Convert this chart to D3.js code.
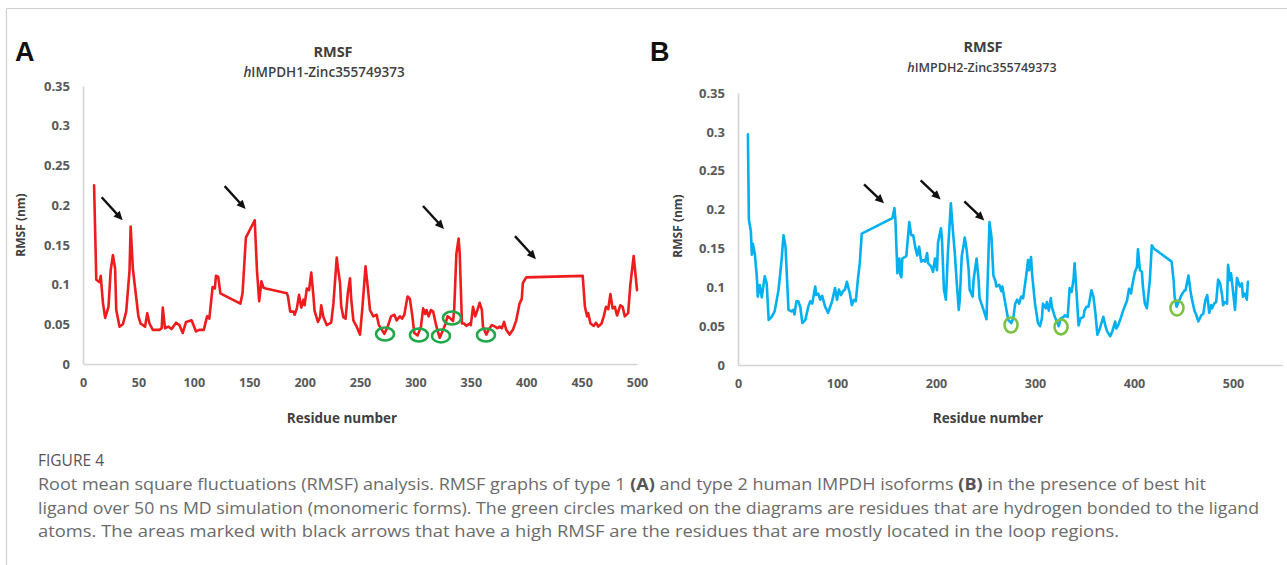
<!DOCTYPE html>
<html>
<head>
<meta charset="utf-8">
<script src="https://cdn.jsdelivr.net/npm/d3@7"></script>
<style>
  html, body { margin: 0; padding: 0; background: #fff; }
  svg { display: block; }
</style>
</head>
<body>
<svg id="fig" width="1287" height="565"></svg>
<script>
// ---------------- DATA ----------------
const residueA = [10,12,15,16,18,20,23,25,27,29,30,33,36,39,42,43,45,47,50,52,56,58,60,63,69,71,72,74,77,80,84,87,90,93,98,102,105,109,112,114,117,119,120,122,124,142,144,147,155,157,159,161,163,165,184,185,187,190,191,193,195,197,199,200,202,204,205,206,208,209,212,214,215,217,220,224,226,229,230,232,233,235,237,239,241,242,244,247,250,252,255,257,259,262,265,267,272,275,278,281,283,286,288,290,292,293,295,297,299,302,305,307,309,310,312,314,316,319,322,325,327,329,331,334,335,337,339,340,342,344,346,349,350,352,354,356,358,360,361,364,366,369,372,374,376,378,380,382,385,388,391,394,396,397,400,451,453,455,456,458,461,463,465,468,470,472,474,476,478,480,482,485,487,489,492,494,497,498,500];
const rmsfA = [0.225,0.106,0.103,0.111,0.077,0.058,0.072,0.118,0.137,0.12,0.068,0.047,0.05,0.066,0.118,0.173,0.12,0.096,0.06,0.051,0.047,0.064,0.051,0.043,0.043,0.045,0.071,0.045,0.047,0.044,0.052,0.049,0.039,0.053,0.055,0.041,0.043,0.043,0.06,0.057,0.097,0.095,0.111,0.11,0.089,0.076,0.089,0.159,0.181,0.118,0.079,0.104,0.096,0.095,0.089,0.085,0.066,0.066,0.062,0.07,0.087,0.071,0.081,0.074,0.095,0.093,0.104,0.115,0.085,0.067,0.053,0.059,0.074,0.059,0.049,0.052,0.076,0.134,0.122,0.102,0.073,0.059,0.057,0.089,0.108,0.083,0.055,0.047,0.037,0.068,0.123,0.097,0.068,0.06,0.062,0.049,0.038,0.047,0.06,0.062,0.055,0.06,0.057,0.062,0.078,0.085,0.082,0.063,0.039,0.036,0.047,0.07,0.063,0.068,0.06,0.068,0.066,0.047,0.033,0.043,0.05,0.06,0.058,0.054,0.068,0.139,0.158,0.139,0.051,0.051,0.048,0.051,0.049,0.072,0.06,0.068,0.077,0.068,0.047,0.037,0.043,0.049,0.047,0.045,0.047,0.045,0.053,0.043,0.037,0.043,0.055,0.076,0.082,0.102,0.109,0.111,0.072,0.06,0.064,0.051,0.048,0.052,0.047,0.051,0.06,0.072,0.069,0.088,0.07,0.072,0.061,0.074,0.072,0.06,0.064,0.1,0.136,0.122,0.093];

const residueB = [10,11,13,14,15,17,19,20,22,24,27,29,31,34,37,41,44,46,48,51,54,56,57,59,61,63,65,68,71,73,75,78,79,81,83,85,88,91,95,98,100,102,104,106,108,110,113,115,117,119,121,123,125,156,158,159,161,163,164,165,166,170,173,175,177,179,181,183,185,187,189,191,192,195,197,199,201,202,205,206,208,210,212,215,217,219,221,223,224,226,228,229,231,233,234,237,238,241,243,244,248,251,254,256,258,260,261,264,266,267,270,273,276,278,280,282,284,286,288,291,293,294,296,297,300,303,305,307,308,311,312,314,316,317,320,324,326,329,330,333,335,337,339,340,342,344,346,349,350,352,354,357,359,361,363,365,369,371,373,376,378,381,382,384,387,389,393,395,397,398,401,403,404,406,408,409,411,413,416,418,420,438,440,441,443,445,448,451,452,455,457,458,461,463,465,468,470,472,474,476,478,479,481,483,485,487,489,490,492,494,495,497,498,500,502,504,507,509,510,512,514,515];
const rmsfB = [0.297,0.187,0.172,0.142,0.156,0.143,0.114,0.088,0.103,0.087,0.114,0.105,0.058,0.062,0.069,0.097,0.135,0.167,0.152,0.071,0.069,0.071,0.065,0.082,0.082,0.074,0.054,0.058,0.075,0.082,0.079,0.101,0.09,0.092,0.084,0.089,0.075,0.067,0.082,0.099,0.084,0.097,0.09,0.095,0.097,0.107,0.092,0.077,0.084,0.082,0.109,0.131,0.169,0.189,0.202,0.187,0.118,0.137,0.116,0.113,0.137,0.14,0.184,0.167,0.167,0.152,0.141,0.152,0.133,0.135,0.133,0.144,0.131,0.127,0.12,0.137,0.122,0.157,0.176,0.163,0.097,0.084,0.144,0.208,0.174,0.144,0.105,0.071,0.084,0.14,0.155,0.164,0.148,0.122,0.097,0.088,0.11,0.137,0.11,0.086,0.071,0.059,0.184,0.165,0.115,0.108,0.101,0.103,0.095,0.101,0.079,0.058,0.054,0.06,0.079,0.084,0.079,0.088,0.086,0.114,0.135,0.122,0.139,0.118,0.079,0.054,0.05,0.06,0.079,0.073,0.081,0.07,0.086,0.075,0.062,0.05,0.06,0.062,0.064,0.062,0.099,0.094,0.111,0.131,0.092,0.051,0.06,0.062,0.07,0.075,0.075,0.096,0.088,0.067,0.039,0.045,0.062,0.051,0.043,0.037,0.043,0.056,0.047,0.051,0.062,0.07,0.083,0.098,0.092,0.101,0.12,0.126,0.149,0.122,0.12,0.101,0.079,0.073,0.109,0.154,0.15,0.133,0.109,0.088,0.075,0.081,0.09,0.096,0.096,0.115,0.096,0.088,0.07,0.064,0.056,0.064,0.066,0.083,0.09,0.067,0.077,0.073,0.079,0.081,0.11,0.105,0.09,0.077,0.081,0.079,0.129,0.109,0.118,0.095,0.071,0.112,0.101,0.105,0.088,0.092,0.084,0.107];

const yTicks = [0, 0.05, 0.1, 0.15, 0.2, 0.25, 0.3, 0.35];
const xTicksA = [0, 50, 100, 150, 200, 250, 300, 350, 400, 450, 500];
const xTicksB = [0, 100, 200, 300, 400, 500];

// annotations (data coordinates)
const arrowTipResA = [35.8, 146.8, 325.8, 408.8];
const arrowTipValA = [0.181, 0.195, 0.170, 0.132];
const arrowTipResB = [147.5, 204.7, 248.8];
const arrowTipValB = [0.208, 0.213, 0.186];
const circleResA = [272.6, 303.2, 323.1, 333, 363.7];
const circleValA = [0.0378, 0.0365, 0.0353, 0.0579, 0.0365];
const circleResB = [275.8, 326.3, 443.4];
const circleValB = [0.0515, 0.049, 0.0734];

const titleA = "RMSF", subA = ["h", "IMPDH1-Zinc355749373"];
const titleB = "RMSF", subB = ["h", "IMPDH2-Zinc355749373"];
const xLabel = "Residue number", yLabel = "RMSF (nm)";

const captionHead = "FIGURE 4";
const captionLines = [
  [["Root mean square fluctuations (RMSF) analysis. RMSF graphs of type 1 ", false], ["(A)", true], [" and type 2 human IMPDH isoforms ", false], ["(B)", true], [" in the presence of best hit", false]],
  [["ligand over 50 ns MD simulation (monomeric forms). The green circles marked on the diagrams are residues that are hydrogen bonded to the ligand", false]],
  [["atoms. The areas marked with black arrows that have a high RMSF are the residues that are mostly located in the loop regions.", false]]
];

// ---------------- DRAW ----------------
const svg = d3.select("#fig");
const FONT = "'Open Sans', 'DejaVu Sans', sans-serif";

// frame
svg.append("line").attr("x1", 6.5).attr("y1", 8.5).attr("x2", 1287).attr("y2", 8.5).attr("stroke", "#cfcfcf").attr("stroke-width", 1.2);
svg.append("line").attr("x1", 6.5).attr("y1", 8.5).attr("x2", 6.5).attr("y2", 565).attr("stroke", "#cfcfcf").attr("stroke-width", 1.2);

function panel(cfg) {
  const x = d3.scaleLinear().domain(cfg.xDomain).range(cfg.xRange);
  const y = d3.scaleLinear().domain([0, 0.35]).range(cfg.yRange);
  const g = svg.append("g");

  const yAxis = d3.axisLeft(y).tickValues(yTicks).tickSize(0).tickPadding(13)
    .tickFormat(d => d === 0 ? "0" : String(+d.toFixed(2)));
  const ya = g.append("g").attr("transform", `translate(${cfg.xRange[0]},0)`).call(yAxis);
  ya.select(".domain").attr("stroke", "#d4d4d4").attr("stroke-width", 1.6);
  ya.selectAll("text").attr("font-family", FONT).attr("font-weight", 700).attr("font-size", 13).attr("fill", "#595959");

  const xAxis = d3.axisBottom(x).tickValues(cfg.xTicks).tickSize(0).tickPadding(14).tickFormat(d3.format("d"));
  const xa = g.append("g").attr("transform", `translate(0,${cfg.yRange[0]})`).call(xAxis);
  xa.select(".domain").attr("stroke", "#d4d4d4").attr("stroke-width", 1.6);
  xa.selectAll("text").attr("font-family", FONT).attr("font-weight", 700).attr("font-size", 12.5).attr("fill", "#595959");

  const pts = cfg.res.map((r, i) => [r, cfg.val[i]]);
  g.append("path").datum(pts)
    .attr("d", d3.line().x(d => x(d[0])).y(d => y(d[1])))
    .attr("fill", "none").attr("stroke", cfg.color).attr("stroke-width", 2.6)
    .attr("stroke-linejoin", "round").attr("stroke-linecap", "round");

  cfg.cRes.forEach((r, i) => {
    g.append("ellipse").attr("cx", x(r)).attr("cy", y(cfg.cVal[i]))
      .attr("rx", cfg.crx).attr("ry", cfg.cry)
      .attr("fill", "none").attr("stroke", cfg.cColor).attr("stroke-width", 2.6);
  });

  cfg.aRes.forEach((r, i) => {
    const tx = x(r), ty = y(cfg.aVal[i]);
    const [dx, dy] = cfg.aDir;
    const len = Math.hypot(dx, dy), ux = dx / len, uy = dy / len;
    const headL = 9, headW = 4.2;
    const bx = tx - ux * headL, by = ty - uy * headL;
    g.append("line").attr("x1", tx - dx).attr("y1", ty - dy).attr("x2", bx + ux * 1).attr("y2", by + uy * 1)
      .attr("stroke", "#111").attr("stroke-width", 2.4);
    g.append("path")
      .attr("d", `M${tx},${ty}L${bx - uy * headW},${by + ux * headW}L${bx + uy * headW},${by - ux * headW}Z`)
      .attr("fill", "#111");
  });

  g.append("text").attr("x", cfg.titleX).attr("y", cfg.titleY).attr("text-anchor", "middle")
    .attr("font-family", FONT).attr("font-weight", 700).attr("font-size", 14.5).attr("fill", "#404040").text(cfg.title);
  const st = g.append("text").attr("x", cfg.subX).attr("y", cfg.subY).attr("text-anchor", "middle")
    .attr("font-family", FONT).attr("font-weight", 600).attr("font-size", cfg.subSize).attr("fill", "#404040");
  st.append("tspan").attr("font-style", "italic").text(cfg.sub[0]);
  st.append("tspan").text(cfg.sub[1]);

  g.append("text").attr("x", cfg.xlX).attr("y", 423).attr("text-anchor", "middle")
    .attr("font-family", FONT).attr("font-weight", 700).attr("font-size", 13.5).attr("fill", "#404040").text(xLabel);
  g.append("text").attr("transform", `translate(${cfg.ylX},${cfg.ylY}) rotate(-90)`).attr("text-anchor", "middle")
    .attr("font-family", FONT).attr("font-weight", 700).attr("font-size", 12).attr("fill", "#404040").text(yLabel);

  svg.append("text").attr("x", cfg.letterX).attr("y", 61).attr("font-family", "'Liberation Sans', Arial, sans-serif")
    .attr("font-weight", 700).attr("font-size", 27).attr("fill", "#111").text(cfg.letter);
}

panel({
  xDomain: [0, 500], xRange: [83, 637], yRange: [364, 86], xTicks: xTicksA,
  res: residueA, val: rmsfA, color: "#ee1c1c",
  cRes: circleResA, cVal: circleValA, crx: 9, cry: 6.5, cColor: "#20a84a",
  aRes: arrowTipResA, aVal: arrowTipValA, aDir: [21, 23],
  title: titleA, titleX: 333, titleY: 57, sub: subA, subX: 324, subY: 77, subSize: 13.5,
  xlX: 342, ylX: 25, ylY: 225, letter: "A", letterX: 15
});
panel({
  xDomain: [0, 550], xRange: [738, 1282.5], yRange: [365, 93], xTicks: xTicksB,
  res: residueB, val: rmsfB, color: "#00b0f0",
  cRes: circleResB, cVal: circleValB, crx: 6.5, cry: 7.5, cColor: "#7cc242",
  aRes: arrowTipResB, aVal: arrowTipValB, aDir: [20, 19],
  title: titleB, titleX: 983, titleY: 52, sub: subB, subX: 982, subY: 72, subSize: 12.5,
  xlX: 988, ylX: 682, ylY: 226, letter: "B", letterX: 650
});

svg.append("text").attr("x", 38).attr("y", 466).attr("font-family", FONT).attr("font-size", 16)
  .attr("fill", "#555").attr("textLength", 66).attr("lengthAdjust", "spacingAndGlyphs").text(captionHead);
const capWidths = [1168, 1221, 1081];
const capY = [490, 514, 537];
captionLines.forEach((line, i) => {
  const t = svg.append("text").attr("x", 38).attr("y", capY[i]).attr("font-family", FONT).attr("font-size", 16.5)
    .attr("fill", "#6b6b6b").attr("textLength", capWidths[i]).attr("lengthAdjust", "spacingAndGlyphs");
  line.forEach(([s, b]) => t.append("tspan").attr("font-weight", b ? 700 : 400).attr("fill", b ? "#555" : null).text(s));
});
</script>
</body>
</html>
